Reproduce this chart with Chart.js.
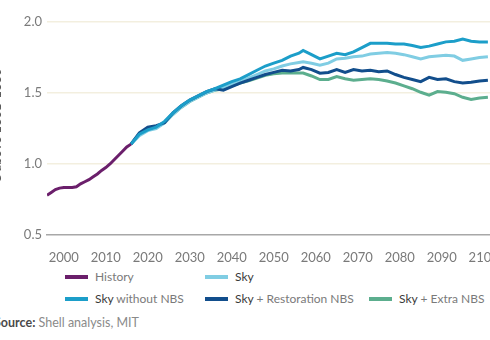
<!DOCTYPE html>
<html>
<head>
<meta charset="utf-8">
<script src="https://cdn.jsdelivr.net/npm/chart.js@4/dist/chart.umd.min.js"></script>
<style>
  html, body { margin: 0; padding: 0; background: #fff; overflow: hidden; width: 490px; height: 340px; }
  body { position: relative; font-family: Lato, 'Open Sans', sans-serif; }
  #wrap { position: absolute; left: -13px; top: 0; width: 523px; height: 262px; }
  .lg { position: absolute; font-size: 12px; color: #7a7a7a; white-space: nowrap; }
  .lg i { display: inline-block; width: 23px; height: 4px; vertical-align: middle; margin-right: 7px; position: relative; top: -1px; }
  .lg b { font-weight: 400; color: #3a3a3a; }
  #source { position: absolute; left: -6px; top: 315px; font-size: 12.5px; color: #8a8a8a; white-space: nowrap; }
  #source b { color: #4a4a4a; font-weight: 700; }
</style>
</head>
<body>
<div id="wrap"><canvas id="chartTemp"></canvas></div>

<div class="lg" style="left:65px; top:269px"><i style="background:#6b1f6b"></i>History</div>
<div class="lg" style="left:205px; top:269px"><i style="background:#80cde3"></i><b>Sky</b></div>
<div class="lg" style="left:65px; top:291px"><i style="background:#1c9ec9"></i><b>Sky</b> without NBS</div>
<div class="lg" style="left:205px; top:291px"><i style="background:#124e8c"></i><b>Sky</b> + Restoration NBS</div>
<div class="lg" style="left:369px; top:291px"><i style="background:#5cae8e"></i><b>Sky</b> + Extra NBS</div>
<div id="source"><b>Source:</b> Shell analysis, MIT</div>

<script>
// courbes de température : historique + 4 scénarios Sky

const yTicks = [0.5, 1.0, 1.5, 2.0];
const xTicks = [2000, 2010, 2020, 2030, 2040, 2050, 2060, 2070, 2080, 2090, 2100];

const histYears = [1996, 1997, 1998, 1999, 2000, 2001, 2002, 2003, 2004, 2005, 2006, 2007, 2008, 2009, 2010, 2011, 2012, 2013, 2014, 2015, 2016];
const histVals  = [0.78, 0.80, 0.82, 0.83, 0.835, 0.835, 0.835, 0.84, 0.86, 0.875, 0.89, 0.91, 0.93, 0.955, 0.975, 1.0, 1.03, 1.06, 1.09, 1.12, 1.14];

const scenYears = [2016, 2018, 2020, 2022, 2024, 2026, 2028, 2030, 2032, 2034, 2036, 2038, 2040, 2042, 2044, 2046, 2048, 2050,
  2052, 2054, 2056, 2057, 2059, 2061, 2063, 2065, 2067, 2069, 2071, 2073, 2075, 2077, 2079, 2081, 2083, 2085,
  2087, 2089, 2091, 2093, 2095, 2097, 2099, 2101];

const skyVals = [1.14, 1.20, 1.235, 1.25, 1.29, 1.35, 1.40, 1.44, 1.47, 1.50, 1.52, 1.54, 1.565, 1.58, 1.605, 1.63, 1.655, 1.67,
  1.69, 1.705, 1.715, 1.72, 1.71, 1.695, 1.71, 1.74, 1.745, 1.755, 1.76, 1.775, 1.78, 1.785, 1.78, 1.77, 1.755, 1.74,
  1.755, 1.76, 1.765, 1.76, 1.73, 1.74, 1.75, 1.755];

const sansNbsVals = [1.14, 1.21, 1.24, 1.26, 1.30, 1.36, 1.41, 1.45, 1.48, 1.51, 1.53, 1.555, 1.58, 1.60, 1.63, 1.66, 1.69, 1.71,
  1.73, 1.76, 1.78, 1.80, 1.77, 1.74, 1.76, 1.78, 1.77, 1.79, 1.82, 1.85, 1.85, 1.85, 1.845, 1.845, 1.835, 1.82,
  1.83, 1.845, 1.86, 1.865, 1.88, 1.865, 1.86, 1.86];

const restaurationVals = [1.14, 1.22, 1.26, 1.27, 1.29, 1.36, 1.41, 1.45, 1.48, 1.51, 1.53, 1.52, 1.545, 1.57, 1.59, 1.61, 1.63, 1.645,
  1.66, 1.655, 1.665, 1.68, 1.665, 1.64, 1.645, 1.665, 1.645, 1.665, 1.655, 1.66, 1.65, 1.655, 1.63, 1.61, 1.595, 1.58,
  1.61, 1.595, 1.60, 1.58, 1.57, 1.575, 1.585, 1.59];

const extraVals = [1.14, 1.21, 1.24, 1.26, 1.29, 1.35, 1.40, 1.44, 1.47, 1.50, 1.52, 1.53, 1.55, 1.57, 1.585, 1.605, 1.625, 1.635,
  1.64, 1.64, 1.64, 1.64, 1.62, 1.595, 1.595, 1.615, 1.60, 1.59, 1.595, 1.60, 1.595, 1.585, 1.57, 1.55, 1.53, 1.505,
  1.485, 1.51, 1.505, 1.495, 1.47, 1.455, 1.465, 1.47];

function points(years, vals) {
  return years.map((x, i) => ({ x, y: vals[i] }));
}

function serie(label, years, vals, couleur) {
  return {
    label,
    data: points(years, vals),
    borderColor: couleur,
    backgroundColor: couleur,
    borderWidth: 3,
    pointRadius: 0,
    tension: 0,
    fill: false,
  };
}

const ctx = document.getElementById('chartTemp');
new Chart(ctx, {
  type: 'line',
  data: {
    datasets: [
      serie('History', histYears, histVals, '#6b1f6b'),
      serie('Sky without NBS', scenYears, sansNbsVals, '#1c9ec9'),
      serie('Sky + Restoration NBS', scenYears, restaurationVals, '#124e8c'),
      serie('Sky', scenYears, skyVals, '#80cde3'),
      serie('Sky + Extra NBS', scenYears, extraVals, '#5cae8e'),
    ],
  },
  options: {
    responsive: true,
    maintainAspectRatio: false,
    animation: false,
    layout: { padding: { top: 22, right: 20, bottom: 0, left: 0 } },
    plugins: {
      legend: { display: false },
      tooltip: { enabled: false },
    },
    scales: {
      x: {
        type: 'linear',
        min: 1996,
        max: 2101.5,
        afterBuildTicks: (s) => { s.ticks = xTicks.map(v => ({ value: v })); },
        afterFit: (s) => { s.height = 27; },
        grid: { display: false },
        border: { display: true, color: '#a8a8a8', width: 1.5 },
        ticks: {
          color: '#7a7a7a',
          font: { family: 'Lato', size: 13 },
          padding: 7,
          maxRotation: 0,
          callback: (v) => String(v),
        },
      },
      y: {
        min: 0.5,
        max: 2.0,
        afterBuildTicks: (s) => { s.ticks = yTicks.map(v => ({ value: v })); },
        afterFit: (s) => { s.width = 60; },
        grid: {
          color: (c) => c.tick && c.tick.value === 0.5 ? 'rgba(0,0,0,0)' : '#f3efdf',
          lineWidth: 1.5,
          drawTicks: false,
        },
        border: { display: false },
        title: {
          display: true,
          text: '°C above 1861-1880',
          color: '#555',
          font: { family: 'Lato', size: 13 },
          padding: { top: 2, bottom: 0 },
        },
        ticks: {
          color: '#7a7a7a',
          font: { family: 'Lato', size: 13 },
          padding: 5,
          callback: (v) => v.toFixed(1),
        },
      },
    },
  },
});
</script>
</body>
</html>
